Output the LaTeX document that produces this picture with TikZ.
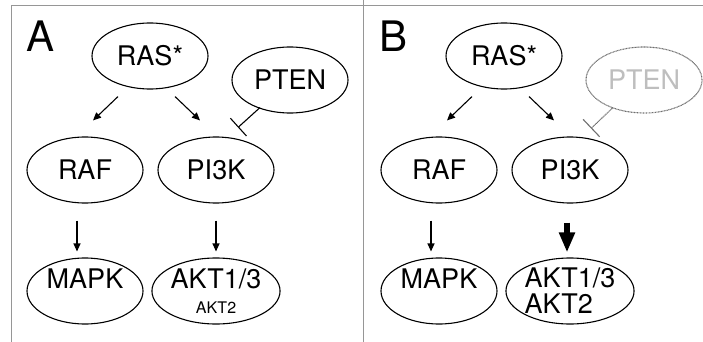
\documentclass[tikz,border=0pt]{standalone}
\usepackage{fontspec}
\setmainfont{TeX Gyre Heros}
\usepackage{tikz}
\usetikzlibrary{shapes.geometric, arrows.meta, positioning}
\definecolor{framecolor}{RGB}{150,150,150}
\definecolor{lostcolor}{RGB}{190,190,190}
\definecolor{dotcolor}{RGB}{110,110,110}
\newcommand{\bigfont}{\fontsize{27}{26}\selectfont}
\newcommand{\smallfont}{\fontsize{16}{16}\selectfont}

\begin{document}
\begin{tikzpicture}[
    x=1pt, y=-1pt,
    oval/.style={ellipse, draw, line width=1.1pt, minimum width=116pt, minimum height=66pt, inner sep=0pt, align=center, font=\bigfont},
    lost/.style={draw=dotcolor, dash pattern=on 0.9pt off 0.6pt, text=lostcolor},
    arrow/.style={-{Triangle[length=8pt,width=7pt]}, line width=1.1pt},
    bigarrow/.style={-{Triangle[length=20pt,width=15pt]}, line width=6pt},
    inhibit/.style={-{Bar[width=24pt]}, line width=1.1pt},
    panel/.style={font=\fontsize{42}{42}\selectfont, anchor=base west, inner sep=0pt},
    frame/.style={draw=framecolor, line width=1pt}
]
\useasboundingbox (0,0) rectangle (703,342);

% Frame
\draw[frame] (11,342) -- (11,6) -- (703,6);
\draw[frame] (363,0) -- (363,342);

% Panel A
\node[panel] (labA) at (26,52) {A};
\node[oval] (rasA) at (150,56) {RAS*};
\node[oval] (ptenA) at (290,80) {PTEN};
\node[oval] (rafA) at (85,170) {RAF};
\node[oval] (pikA) at (216,170) {PI3K};
\node[oval] (mapkA) at (85,291) {MAPK\\[-1pt]{\smallfont\phantom{AKT2}}};
\node[oval] (aktA) at (216,291) {AKT1/3\\[-1pt]{\smallfont AKT2}};

\draw[arrow] ([shift={(-32,7)}]rasA.south) -- ([shift={(8,-16)}]rafA.north);
\draw[arrow] ([shift={(25,7)}]rasA.south) -- ([shift={(-16,-16)}]pikA.north);
\draw[inhibit] ([shift={(-30,-6)}]ptenA.south) -- ([shift={(22,-9)}]pikA.north);
\draw[arrow] ([shift={(-8,17)}]rafA.south) -- ([shift={(-8,-6)}]mapkA.north);
\draw[arrow] ([shift={(0,17)}]pikA.south) -- ([shift={(0,-6)}]aktA.north);

% Panel B
\node[panel] (labB) at (379,52) {B};
\node[oval] (rasB) at (504,56) {RAS*};
\node[oval, lost] (ptenB) at (644,80) {PTEN};
\node[oval] (rafB) at (439,170) {RAF};
\node[oval] (pikB) at (570,170) {PI3K};
\node[oval] (mapkB) at (439,291) {MAPK\\[-1pt]{\smallfont\phantom{AKT2}}};
\node[oval, align=left] (aktB) at (570,291) {AKT1/3\\AKT2};

\draw[arrow] ([shift={(-32,7)}]rasB.south) -- ([shift={(8,-16)}]rafB.north);
\draw[arrow] ([shift={(25,7)}]rasB.south) -- ([shift={(-16,-16)}]pikB.north);
\draw[inhibit, dotcolor, dash pattern=on 0.9pt off 0.6pt] ([shift={(-31,-6)}]ptenB.south) -- ([shift={(21,-8)}]pikB.north);
\draw[arrow] ([shift={(-8,17)}]rafB.south) -- ([shift={(-8,-6)}]mapkB.north);
\draw[bigarrow] ([shift={(-3,19)}]pikB.south) -- ([shift={(-3,-5)}]aktB.north);

\end{tikzpicture}
\end{document}
